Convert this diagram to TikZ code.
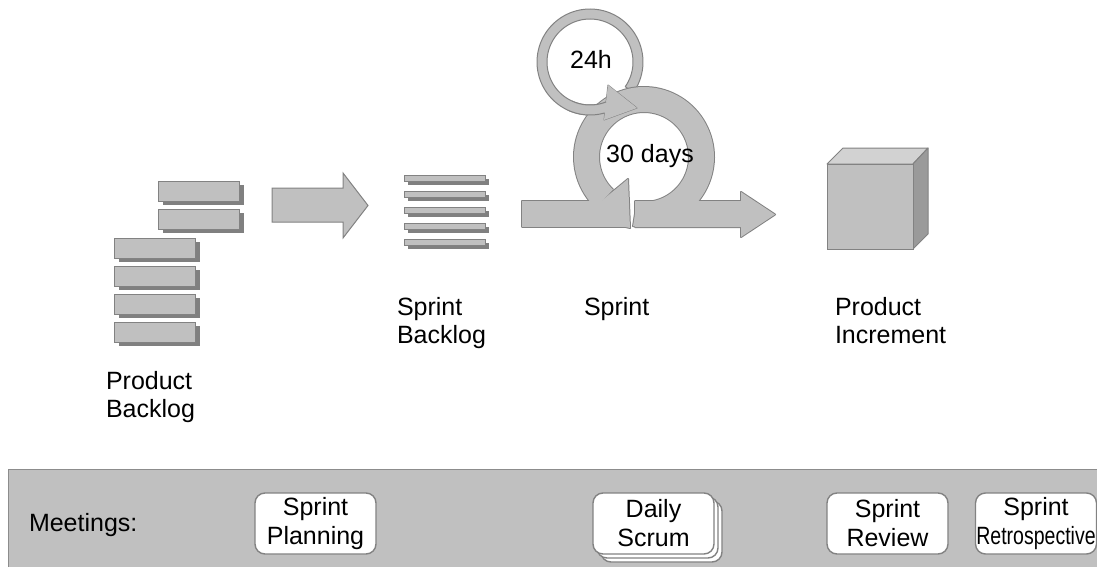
\documentclass[tikz,border=0pt]{standalone}
\usepackage{fontspec}
\setmainfont{Liberation Sans}
\definecolor{blockgray}{HTML}{C0C0C0}
\definecolor{edgegray}{HTML}{828282}
\definecolor{shadegray}{HTML}{808080}
\definecolor{topgray}{HTML}{D2D2D2}
\definecolor{sidegray}{HTML}{9A9A9A}
\definecolor{panelgray}{HTML}{C0C0C0}

% the big sprint loop: incoming shaft, 30-day ring, outgoing arrow and ring head
\newcommand{\sprintloop}[1]{%
  \path[#1] (522,201) rectangle (626,227);
  \path[#1] plot[domain=99:-226.4,samples=90] ({644+70*cos(\x)},{157+70*sin(\x)})
     -- plot[domain=-226.4:99,samples=90] ({644+45*cos(\x)},{157+45*sin(\x)}) -- cycle;
  \path[#1] (635,201) -- (741,201) -- (741,192) -- (775,214.5) -- (741,237) -- (741,227) -- (635,227) -- cycle;
  \path[#1] (582,217) -- (628,179) -- (630,228) -- cycle;
}

\begin{document}
\begin{tikzpicture}[x=1pt,y=-1pt,
  every node/.style={inner sep=0pt, outer sep=0pt, text=black,
    font=\fontsize{25}{28}\selectfont},
  edge/.style={draw=edgegray, line width=2pt, line join=round},
  body/.style={fill=blockgray},
  item/.style={fill=blockgray, draw=edgegray, line width=0.9pt},
  shade/.style={fill=shadegray},
  meeting/.style={draw=edgegray, line width=1.4pt, fill=white, rounded corners=10pt,
    minimum width=121pt, minimum height=61pt, align=center,
    font=\fontsize{25}{29}\selectfont},
  label/.style={anchor=north west, align=left}]
\useasboundingbox (0,0) rectangle (1097,567);

% product backlog items
\foreach \x/\y in {158/181, 158/209, 114/238, 114/266, 114/294, 114/322} {
  \fill[shade] (\x+5,\y+4) rectangle (\x+86,\y+24);
  \path[item] (\x,\y) rectangle (\x+81,\y+20);
}
\node[label] (pbl) at (106,371) {Product\\Backlog};

% planning arrow
\path[item, line width=1pt] (272,188) -- (343,188) -- (343,173) -- (368,205.5) -- (343,238) -- (343,222) -- (272,222) -- cycle;

% sprint backlog items
\foreach \y in {175, 191, 207, 223, 239} {
  \fill[shade] (408,\y+4) rectangle (489,\y+10);
  \path[item, line width=0.7pt] (404,\y) rectangle (485,\y+6);
}
\node[label] (sbl) at (397,297) {Sprint\\Backlog};

% daily 24h ring, lower layer
\path[edge, fill=blockgray, line width=1pt]
  plot[domain=35:-292,samples=90] ({590+53*cos(\x)},{62+53*sin(\x)})
  -- plot[domain=-292:35,samples=90] ({590+43*cos(\x)},{62+43*sin(\x)}) -- cycle;

% sprint loop as one outlined shape
\sprintloop{edge}
\sprintloop{body}

% head of the 24h ring, drawn over the sprint loop
\path[edge, line width=1pt] (608,85) -- (637,108) -- (604,120) -- cycle;
\fill[blockgray] (608,85) -- (637,108) -- (604,120) -- cycle;
\fill[blockgray] plot[domain=-245:-291,samples=30] ({590+53*cos(\x)},{62+53*sin(\x)})
  -- plot[domain=-291:-245,samples=30] ({590+43*cos(\x)},{62+43*sin(\x)}) -- cycle;
\draw[draw=edgegray, line width=1pt] plot[domain=-245:-286,samples=30] ({590+53*cos(\x)},{62+53*sin(\x)});
\draw[draw=edgegray, line width=1pt] plot[domain=-245:-292,samples=30] ({590+43*cos(\x)},{62+43*sin(\x)});

\node (h24) at (591,59) {24h};
\node (d30) at (650,156) {30 days};
\node[label] (spr) at (584,297) {Sprint};

% product increment cube
\path[draw=edgegray, line width=1pt, line join=round, fill=topgray] (827,164) -- (843,148) -- (928,148) -- (913,164) -- cycle;
\path[draw=edgegray, line width=1pt, line join=round, fill=sidegray] (913,164) -- (928,148) -- (928,234) -- (913,249) -- cycle;
\path[draw=edgegray, line width=1pt, fill=blockgray] (827,164) rectangle (913,249);
\node[label] (pin) at (835,297) {Product\\Increment};

% meetings panel
\fill[panelgray] (8,469) rectangle (1097,567);
\draw[draw=gray!90, line width=1pt] (1097,469) -- (8,469) -- (8,567);
\node[anchor=base west] (mtg) at (29,531) {Meetings:};

\node[meeting] (plan) at (315.5,523.5) {Sprint\\Planning};
\node[meeting] (ds3) at (661.5,531.5) {\phantom{Daily}\\\phantom{Scrum}};
\node[meeting] (ds2) at (657.5,527.5) {\phantom{Daily}\\\phantom{Scrum}};
\node[meeting] (ds) at (653.5,523.5) {Daily\\Scrum};
\node[meeting] (rev) at (887.5,523.5) {Sprint\\Review};
\node[meeting] (retro) at (1036,523.5) {Sprint\\\scalebox{0.78}[1]{Retrospective}};
\end{tikzpicture}
\end{document}
